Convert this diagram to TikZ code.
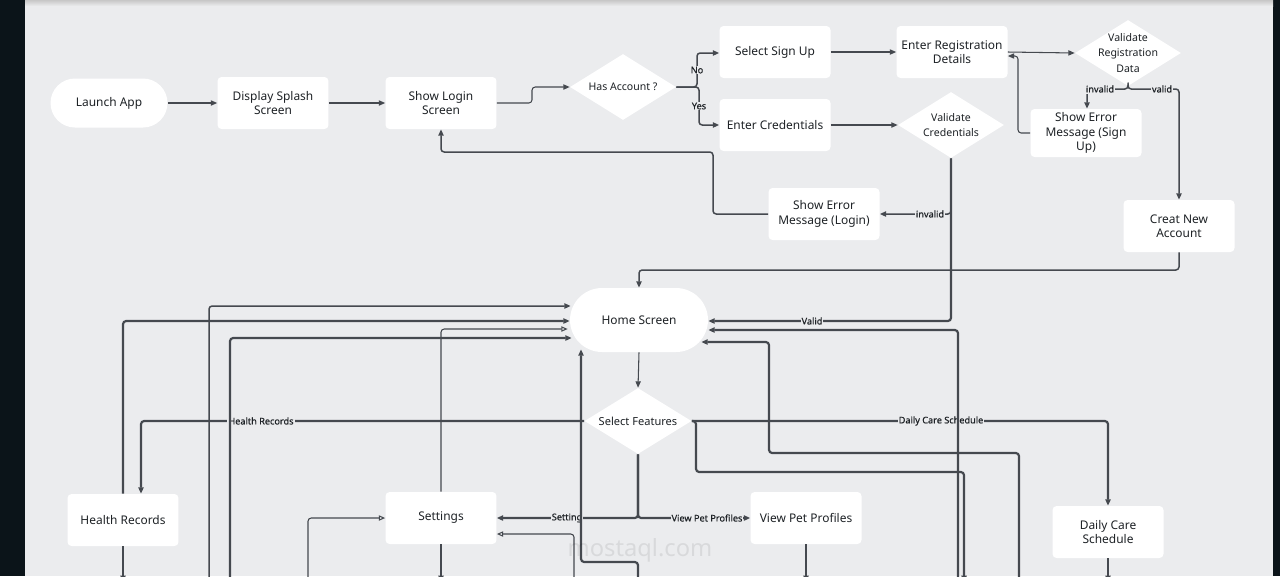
\documentclass[tikz,border=0pt]{standalone}
\usepackage{fontspec}
\setmainfont{Noto Sans}
\newfontfamily\lblfont[FakeBold=0.6]{Noto Sans}
\newfontfamily\wmfont{Noto Sans}
\usetikzlibrary{arrows.meta,shapes.geometric,calc}
\definecolor{canvas}{HTML}{EBECEE}
\definecolor{darkbg}{HTML}{0B1419}
\definecolor{ln}{HTML}{45494F}
\definecolor{txt}{HTML}{1E2226}
\begin{document}
\begin{tikzpicture}[x=0.02cm,y=-0.02cm,
  box/.style={fill=white,rounded corners=2.3pt,minimum width=2.22cm,minimum height=1.04cm,
    inner sep=0pt,align=center,text=txt,font=\fontsize{6.8}{8.2}\selectfont},
  pill/.style={fill=white,inner sep=0pt,align=center,text=txt,font=\fontsize{6.8}{8.2}\selectfont},
  dia/.style={diamond,fill=white,minimum width=2.12cm,minimum height=1.32cm,inner sep=0pt},
  diatext/.style={align=center,text=txt,inner sep=0pt,font=\fontsize{6}{8.6}\selectfont},
  lbl/.style={fill=canvas,inner sep=0.6pt,text=txt,font=\lblfont\fontsize{5.2}{6}\selectfont},
  thinln/.style={draw=ln,line width=0.6pt,rounded corners=1.8pt},
  medln/.style={draw=ln,line width=0.85pt,rounded corners=1.8pt},
  thickln/.style={draw=ln,line width=1.25pt,rounded corners=1.8pt},
  arr/.style={-{Triangle[length=3.6pt,width=3pt]}},
  oarr/.style={-{Triangle[open,length=3.6pt,width=3pt]}}
]
\useasboundingbox (0,0) rectangle (1280,576);
\fill[darkbg] (0,0) rectangle (1280,576);
\fill[canvas] (25,0) rectangle (1273,576);
\shade[top color=black!22,bottom color=canvas] (25,0) rectangle (1273,6);
\clip (25,0) rectangle (1273,576);

% ---------- nodes ----------
\node[pill,minimum width=2.34cm,minimum height=0.98cm,rounded corners=0.49cm] (launch) at (109,103) {Launch App};
\node[box] (splash) at (273,103) {Display Splash\\Screen};
\node[box] (login) at (441,103) {Show Login\\Screen};
\node[dia] (hasacc) at (623,87) {};
\node[diatext] at (hasacc) {Has Account ?};
\node[box] (signup) at (775,52) {Select Sign Up};
\node[box] (cred) at (775,125) {Enter Credentials};
\node[box] (regdet) at (952,52) {Enter Registration\\Details};
\node[dia] (valreg) at (1128,53) {};
\node[diatext] at (valreg) {Validate\\Registration\\Data};
\node[dia] (valcred) at (951,125) {};
\node[diatext] at (valcred) {Validate\\Credentials};
\node[box,minimum height=0.96cm] (errsu) at (1086,133) {Show Error\\Message (Sign\\Up)};
\node[box] (errlog) at (824,214) {Show Error\\Message (Login)};
\node[box] (newacc) at (1179,226) {Creat New\\Account};
\node[pill,minimum width=2.76cm,minimum height=1.28cm,rounded corners=0.64cm] (home) at (639,320) {Home Screen};
\node[dia,minimum width=2.14cm] (sel) at (638,421) {};
\node[diatext,font=\fontsize{6.3}{8}\selectfont] at (sel) {Select Features};
\node[box] (health) at (123,520) {Health Records};
\node[box] (settings) at (441,518) {Settings};
\node[box] (view) at (806,518) {View Pet Profiles};
\node[box] (daily) at (1108,532) {Daily Care\\Schedule};

% bottom edge coordinates
\coordinate (b123) at (123,582);
\coordinate (b209) at (209,582);
\coordinate (b230) at (230,582);
\coordinate (b308) at (308,582);
\coordinate (b441) at (441,582);
\coordinate (b574) at (574,582);
\coordinate (b638) at (638,582);
\coordinate (b806) at (806,582);
\coordinate (b958) at (958,582);
\coordinate (b964) at (964,582);
\coordinate (b1019) at (1019,582);
\coordinate (b1108) at (1108,582);

% ---------- top connectors ----------
\draw[thinln,arr] (launch.east) -- (splash.west);
\draw[thinln,arr] (splash.east) -- (login.west);
\draw[thinln,arr] (login.east) -- (532,103) -- (532,87) -- (hasacc.west);
\draw[medln,arr] (hasacc.east) -- (697,87) -- (697,53) -- ($(signup.west)+(0,1)$);
\draw[medln,arr] (hasacc.east) -- (699,87) -- (699,125) -- (cred.west);
\node[lbl] at (697,70) {No};
\node[lbl] at (699,106) {Yes};
\draw[thinln,arr] (signup.east) -- (regdet.west);
\draw[thinln,arr] (cred.east) -- (valcred.west);
\draw[thinln,arr] (regdet.east) -- (valreg.west);
\draw[thinln,arr] (errsu.west) -- (1018,133) -- (1018,56) -- ($(regdet.east)+(0,4)$);
\draw[medln,arr] (valreg.south) -- (1128,89) -- (1087,89) -- ($(errsu.north)+(1,0)$);
\draw[medln,arr] (valreg.south) -- (1128,89) -- (1179,89) -- (newacc.north);
\node[lbl] at (1100,89) {invalid};
\node[lbl] at (1162,89) {valid};
\draw[medln,arr] (valcred.south) -- (951,214) -- (errlog.east);
\node[lbl] at (930,214) {invalid};
\draw[medln,arr] (errlog.west) -- (713,214) -- (713,152) -- (441,152) -- (login.south);
\draw[medln,arr] (newacc.south) -- (1179,270) -- (639,270) -- (home.north);
\draw[thickln,arr] (valcred.south) -- (951,321) -- ($(home.east)+(0,1)$);
\node[lbl] at (812,321) {Valid};

% ---------- home / features ----------
\draw[thinln,arr] (home.south) -- (sel.north);
\draw[thickln,arr] (sel.west) -- (141,421) -- ($(health.north)+(18,0)$);
\node[lbl] at (261,421) {Health Records};
\draw[thickln,arr] (sel.east) -- (1108,421) -- (daily.north);
\node[lbl] at (941,421) {Daily Care Schedule};
\draw[thickln,arr] (sel.south) -- (638,518) -- (settings.east);
\draw[thickln,arr] (sel.south) -- (638,518) -- (view.west);
\node[lbl] at (567,518) {Setting};
\node[lbl] at (707,518) {View Pet Profiles};

% returns into Home Screen (left)
\draw[medln,arr] (b209) -- (209,306) -- ($(home.west)+(1,-14)$);
\draw[thickln,arr] (health.north) -- (123,321) -- ($(home.west)+(0,1)$);
\draw[thinln,oarr] (settings.north) -- (441,329) -- ($(home.west)+(-2,9)$);
\draw[thickln,arr] (b230) -- (230,338) -- ($(home.west)+(2,18)$);
\draw[thickln,arr] (b638) -- (638,562) -- (581,562) -- ($(home.south)+(-58,-3)$);
% returns into Home Screen (right)
\draw[thickln,arr] (b958) -- (958,330) -- ($(home.east)+(0,10)$);
\draw[thickln,arr] (b1019) -- (1019,453) -- (769,453) -- (769,342) -- ($(home.east)+(-7,22)$);
\draw[thickln,arr] (sel.east) -- (696,421) -- (696,472) -- (964,472) -- (b964);

% settings and lower links
\draw[thinln,oarr] (b308) -- (308,518) -- (settings.west);
\draw[thinln,oarr] (b574) -- (574,534) -- ($(settings.east)+(0,16)$);
\draw[thinln,arr] (settings.south) -- (b441);
\draw[thinln,arr] (health.south) -- (b123);
\draw[thinln,arr] (view.south) -- (b806);
\draw[thinln,arr] (daily.south) -- (b1108);

% watermark
\node[text=black,opacity=0.08,font=\wmfont\bfseries\fontsize{13.5}{14}\selectfont,inner sep=0pt] (wm2) at (640,550) {mostaql.com};
\end{tikzpicture}
\end{document}
